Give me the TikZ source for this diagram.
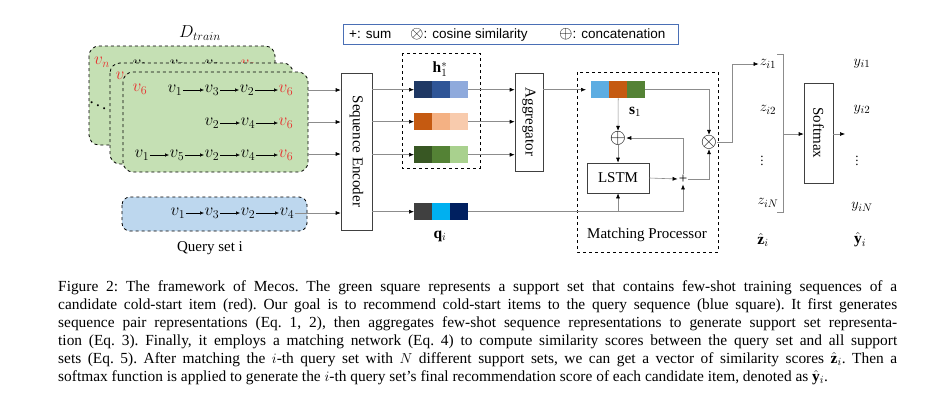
\documentclass[tikz,border=0pt]{standalone}
\usepackage{fontspec}
\setmainfont{Liberation Serif}
\newfontfamily\legfont{Liberation Sans}
\usetikzlibrary{arrows.meta,calc}
\definecolor{cardgreen}{HTML}{C5E0B4}
\definecolor{qblue}{HTML}{BDD7EE}
\definecolor{vred}{HTML}{E8312F}
\definecolor{legblue}{HTML}{4A6FB5}
\definecolor{hA}{HTML}{1F3864}\definecolor{hB}{HTML}{2F5597}\definecolor{hC}{HTML}{8FAADC}
\definecolor{oA}{HTML}{C55A11}\definecolor{oB}{HTML}{F4B183}\definecolor{oC}{HTML}{F8CBAD}
\definecolor{gA}{HTML}{385723}\definecolor{gB}{HTML}{548235}\definecolor{gC}{HTML}{A9D18E}
\definecolor{qA}{HTML}{404040}\definecolor{qB}{HTML}{00B0F0}\definecolor{qC}{HTML}{002060}
\definecolor{sA}{HTML}{5DADE2}
\newcommand{\tribar}[6]{%
  \fill[#4] (#2,#3) rectangle ++(18,17);
  \fill[#5] ({#2+18},#3) rectangle ++(18,17);
  \fill[#6] ({#2+36},#3) rectangle ++(18,17);
  \node[inner sep=0pt, minimum width=54pt, minimum height=17pt, anchor=north west] (#1) at (#2,#3) {};}
\tikzset{
  vv/.style={inner sep=0.5pt, font=\fontsize{17}{17}\selectfont},
  vr/.style={vv, text=vred},
  sarr/.style={black, line width=0.5pt, -{Latex[length=4pt,width=3.5pt]}},
  garr/.style={draw=black!45, line width=0.6pt, -{Latex[length=5pt,width=4pt,color=black]}},
  gline/.style={draw=black!45, line width=0.6pt},
  card/.style={draw=black, fill=cardgreen, dashed, line width=0.8pt, rounded corners=10pt},
  qcard/.style={draw=black, fill=qblue, dashed, line width=0.8pt, rounded corners=8pt},
  blockbox/.style={draw=black!75, line width=0.6pt, inner sep=0pt},
  lbl/.style={font=\fontsize{15}{15}\selectfont, inner sep=1pt},
  mlbl/.style={font=\fontsize{15.5}{15.5}\selectfont, inner sep=1pt},
  dotlbl/.style={font=\fontsize{13}{13}\selectfont, inner sep=0pt},
  opsym/.style={font=\fontsize{20}{20}\selectfont, inner sep=0pt},
  dbox/.style={draw=black, dashed, line width=0.8pt},
  legtxt/.style={anchor=west, inner sep=0pt, font=\legfont\fontsize{13.5}{13.5}\selectfont},
}
\begin{document}
\begin{tikzpicture}[x=1pt,y=-1pt]
\useasboundingbox (0,0) rectangle (933,400);
\fill[white] (0,0) rectangle (933,400);

% D_train
\node[lbl, font=\fontsize{17}{17}\selectfont] (dtrain) at (200,33) {$D_{train}$};

% back card
\draw[card] (89,46) rectangle (275,145);
\node[vr] (bn) at (102,62) {$v_n$};
\node[vv] (bdots) at (98,103) {$\ddots$};
\node[vv] (b1) at (140,65) {$v_1$};
\node[vv] (b2) at (177,65) {$v_3$};
\node[vv] (b3) at (212,65) {$v_2$};
\node[vr] (b4) at (248,65) {$v_6$};
\draw[sarr] (b1) -- (b2); \draw[sarr] (b2) -- (b3); \draw[sarr] (b3) -- (b4);

% middle card
\draw[card] (110,63) rectangle (293,164);
\node[vr] (mv) at (123,77) {$v_6$};

% front card
\draw[card] (123,72) rectangle (308,172);
\node[vr] (fv) at (140,89) {$v_6$};
\node[vv] (f11) at (175,90) {$v_1$};
\node[vv] (f12) at (212,90) {$v_3$};
\node[vv] (f13) at (247,90) {$v_2$};
\node[vr] (f14) at (286,90) {$v_6$};
\draw[sarr] (f11) -- (f12); \draw[sarr] (f12) -- (f13); \draw[sarr] (f13) -- (f14);
\node[vv] (f21) at (212,123) {$v_2$};
\node[vv] (f22) at (248,123) {$v_4$};
\node[vr] (f23) at (286,123) {$v_6$};
\draw[sarr] (f21) -- (f22); \draw[sarr] (f22) -- (f23);
\node[vv] (f31) at (142,155) {$v_1$};
\node[vv] (f32) at (177,155) {$v_5$};
\node[vv] (f33) at (212,155) {$v_2$};
\node[vv] (f34) at (248,155) {$v_4$};
\node[vr] (f35) at (286,155) {$v_6$};
\draw[sarr] (f31) -- (f32); \draw[sarr] (f32) -- (f33); \draw[sarr] (f33) -- (f34); \draw[sarr] (f34) -- (f35);

% query card
\draw[qcard] (122,197) rectangle (307,231);
\node[vv] (q1) at (178,213) {$v_1$};
\node[vv] (q2) at (212,213) {$v_3$};
\node[vv] (q3) at (248,213) {$v_2$};
\node[vv] (q4) at (287,213) {$v_4$};
\draw[sarr] (q1) -- (q2); \draw[sarr] (q2) -- (q3); \draw[sarr] (q3) -- (q4);
\node[lbl] (qlab) at (210,248) {Query set i};

% sequence encoder
\node[blockbox, minimum width=31pt, minimum height=157pt] (enc) at (356.5,151.5) {};
\node[lbl, rotate=-90] (enct) at (enc.center) {Sequence Encoder};

\coordinate (o1) at (308,90);
\coordinate (o2) at (308,122);
\coordinate (o3) at (308,154);
\draw[garr] (o1) -- (o1 -| enc.west);
\draw[garr] (o2) -- (o2 -| enc.west);
\draw[garr] (o3) -- (o3 -| enc.west);
\draw[garr] (q4.east) -- (q4.east -| enc.west);

% h box
\draw[dbox] (402,53) rectangle (480,168);
\node[mlbl] (hlab) at (440,69) {$\mathbf{h}_1^*$};
\tribar{h1}{414}{81}{hA}{hB}{hC}
\tribar{h2}{414}{113}{oA}{oB}{oC}
\tribar{h3}{414}{146}{gA}{gB}{gC}
\tribar{qb}{414}{203}{qA}{qB}{qC}
\node[mlbl] (qlbl) at (440,236) {$\mathbf{q}_i$};

\draw[garr] (enc.east |- h1) -- (h1.west);
\draw[garr] (enc.east |- h2) -- (h2.west);
\draw[garr] (enc.east |- h3) -- (h3.west);
\draw[garr] (enc.east |- qb) -- (qb.west);

% aggregator
\node[blockbox, minimum width=28pt, minimum height=98pt] (agg) at (529,122) {};
\node[lbl, rotate=-90] (aggt) at (agg.center) {Aggregator};
\draw[garr] (h1.east) -- (h1 -| agg.west);
\draw[garr] (h2.east) -- (h2 -| agg.west);
\draw[garr] (h3.east) -- (h3 -| agg.west);

% matching processor
\draw[dbox] (577,72) rectangle (718,252);
\node[lbl] (mplab) at (647,235) {Matching Processor};
\tribar{s1}{591}{81}{sA}{oA}{gB}
\node[mlbl] (slbl) at (635,112) {$\mathbf{s}_1$};
\draw[garr, shorten >=5pt] (agg.east |- s1) -- (s1.west);
\node[opsym] (oplus) at (618,138) {$\oplus$};
\node[blockbox, minimum width=62pt, minimum height=30pt, font=\fontsize{15}{15}\selectfont] (lstm) at (618,178) {LSTM};
\node[font=\fontsize{15}{15}\selectfont, inner sep=1pt] (plus) at (683,179) {+};
\node[opsym] (otimes) at (709,142) {$\otimes$};

\draw[garr] (s1.south) -- (oplus.north);
\draw[garr] (oplus.south) -- (lstm.north);
\draw[garr] (lstm.east) -- (plus.west);
\draw[garr] (plus.north) |- (oplus.east);
\draw[garr] (plus.east) -| (otimes.south);
\draw[garr] (s1.east) -| (otimes.north);
\coordinate (qj) at (lstm |- qb);
\coordinate (pj) at (plus |- qb);
\draw[gline] (qb.east) -- (pj);
\draw[garr] (pj) -- (plus.south);
\draw[garr] (qj) -- (lstm.south);

% z column
\node[mlbl] (z1) at (768,64) {$z_{i1}$};
\node[mlbl] (z2) at (768,110) {$z_{i2}$};
\node[dotlbl] (zd) at (762,158) {$\vdots$};
\node[mlbl] (zN) at (768,203) {$z_{iN}$};
\node[mlbl] (zh) at (763,240) {$\hat{\mathbf{z}}_i$};
\draw[garr] (otimes.east) -- ++(15,0) |- (z1.west);
\draw[gline] (777,54) -- (783,54) -- (783,212) -- (777,212);
\coordinate (brk) at (783,134);

% softmax
\node[blockbox, minimum width=29pt, minimum height=100pt] (sm) at (818.5,133) {};
\node[lbl, rotate=-90] (smt) at (sm.center) {Softmax};
\draw[garr] (brk) -- (brk -| sm.west);
\coordinate (smo) at (845,134);
\draw[garr] (sm.east |- smo) -- (smo);

% y column
\node[mlbl] (y1) at (862,64) {$y_{i1}$};
\node[mlbl] (y2) at (862,110) {$y_{i2}$};
\node[dotlbl] (yd) at (857,158) {$\vdots$};
\node[mlbl] (yN) at (862,207) {$y_{iN}$};
\node[mlbl] (yh) at (860,240) {$\hat{\mathbf{y}}_i$};

% legend
\draw[draw=legblue, line width=0.7pt] (343,24) rectangle (678,44);
\node[legtxt] (l1) at (349,34.5) {+: sum};
\node[legtxt] (l2) at (410,34.5) {{\fontsize{17}{17}\selectfont$\otimes$}: cosine similarity};
\node[legtxt] (l3) at (559,34.5) {{\fontsize{17}{17}\selectfont$\oplus$}: concatenation};

% caption
\node[anchor=north west, inner sep=0pt, text width=839pt, align=justify,
      font=\fontsize{15.4}{18}\selectfont] (cap) at (58,280) {%
\frenchspacing\tolerance=9999\emergencystretch=3em
Figure 2: The framework of Mecos. The green square represents a support set that contains few-shot training sequences of a\linebreak
candidate cold-start item (red). Our goal is to recommend cold-start items to the query sequence (blue square). It first generates\linebreak
sequence pair representations (Eq.~1, 2), then aggregates few-shot sequence representations to generate support set representa-\linebreak
tion (Eq.~3). Finally, it employs a matching network (Eq.~4) to compute similarity scores between the query set and all support\linebreak
sets (Eq.~5). After matching the $i$-th query set with $N$ different support sets, we can get a vector of similarity scores $\hat{\mathbf{z}}_i$. Then a\linebreak
softmax function is applied to generate the $i$-th query set's final recommendation score of each candidate item, denoted as $\hat{\mathbf{y}}_i$.};
\end{tikzpicture}
\end{document}
